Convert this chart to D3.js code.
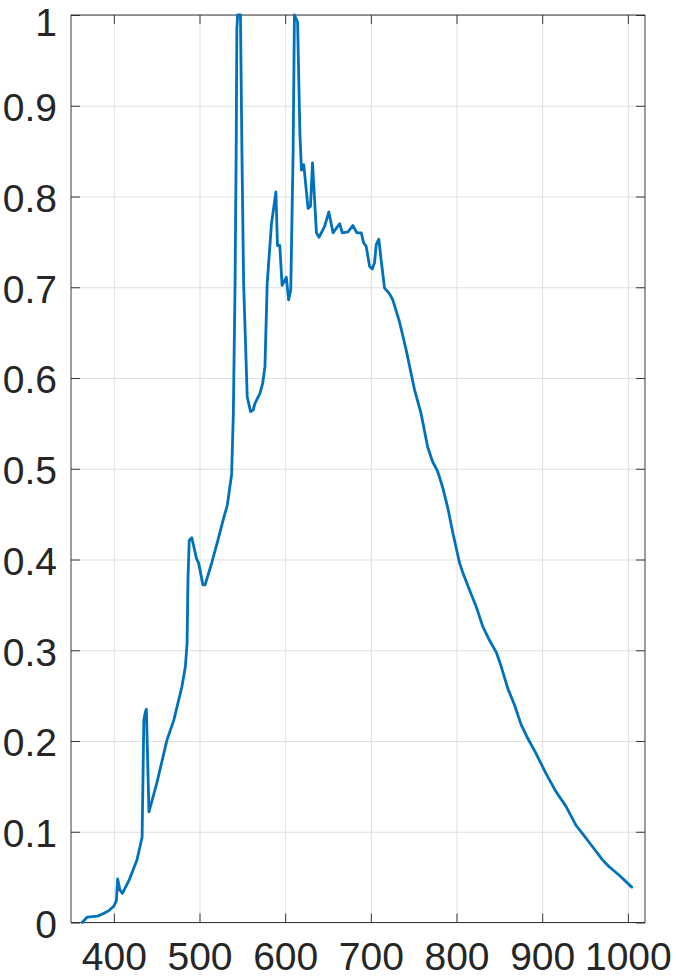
<!DOCTYPE html>
<html>
<head>
<meta charset="utf-8">
<script src="https://cdn.jsdelivr.net/npm/d3@7"></script>
<style>
  html, body { margin: 0; padding: 0; background: #fff; }
  svg { display: block; }
</style>
</head>
<body>
<svg id="chart" width="676" height="979"></svg>
<script>
// ---- data ----
const wavelength = [363, 369, 381, 388, 394, 400, 403, 404.5, 407, 410, 418, 427, 433, 435, 437, 438, 441, 450, 462, 470,
  479.5, 483.5, 485.5, 486.5, 488, 491, 496.5, 499, 504, 506.5, 514.5, 522, 528, 532.5, 537.5, 539.5, 541.5, 542.8, 543.6, 544.5,
  547.8, 549.5, 551.5, 555.7, 559.6, 562.7, 564.7, 570.5, 573.7, 576.4, 579, 584, 589.2, 591, 593.7, 596.4, 601.4, 604, 606.5, 609.3,
  610.8, 614.5, 617.2, 619, 621.7, 626.7, 629.5, 631.9, 636.5, 639.5, 646, 651, 655.8, 663.6, 666.7, 673.3, 679, 683.7, 688.8, 691.5,
  694.6, 698.5, 701.6, 704.3, 706.3, 709.3, 712, 716, 721.7, 725.6, 733.4, 741.2, 751, 758.6, 766.3, 772, 778, 783.7, 790, 795.8,
  803.6, 807.5, 815.3, 823, 830.7, 838.5, 846.3, 852.2, 859.8, 867.6, 875.4, 883.1, 892.9, 904.5, 916.2, 927.8, 939.5, 947.1, 958.8,
  970.4, 978.2, 989.9, 1004.6];
const intensity = [0.000, 0.006, 0.007, 0.010, 0.013, 0.018, 0.024, 0.048, 0.036, 0.032, 0.047, 0.069, 0.094, 0.223, 0.233, 0.235, 0.122, 0.153, 0.201, 0.223,
  0.260, 0.282, 0.308, 0.377, 0.421, 0.424, 0.401, 0.396, 0.372, 0.372, 0.397, 0.423, 0.445, 0.460, 0.494, 0.561, 0.704, 0.850, 0.985, 1.000,
  1.000, 0.850, 0.704, 0.579, 0.563, 0.565, 0.572, 0.583, 0.594, 0.6125, 0.704, 0.770, 0.805, 0.746, 0.746, 0.702, 0.711, 0.686, 0.697, 0.851,
  1.000, 0.992, 0.869, 0.829, 0.835, 0.787, 0.789, 0.837, 0.760, 0.755, 0.767, 0.783, 0.760, 0.770, 0.760, 0.761, 0.768, 0.760, 0.760, 0.749,
  0.745, 0.723, 0.720, 0.727, 0.747, 0.753, 0.730, 0.699, 0.693, 0.686, 0.662, 0.631, 0.587, 0.561, 0.524, 0.508, 0.497, 0.480, 0.456, 0.429,
  0.396, 0.385, 0.366, 0.348, 0.326, 0.311, 0.298, 0.282, 0.258, 0.240, 0.218, 0.203, 0.186, 0.164, 0.144, 0.128, 0.107, 0.098, 0.0835,
  0.069, 0.0615, 0.052, 0.039];
const xTicks = [400, 500, 600, 700, 800, 900, 1000];
const xTickLabels = ["400", "500", "600", "700", "800", "900", "1000"];
const yTicks = [0, 0.1, 0.2, 0.3, 0.4, 0.5, 0.6, 0.7, 0.8, 0.9, 1];
const yTickLabels = ["0", "0.1", "0.2", "0.3", "0.4", "0.5", "0.6", "0.7", "0.8", "0.9", "1"];
const xDomain = [350, 1020];
const yDomain = [0, 1];

// ---- layout ----
const L = 71, R = 645, T = 15, B = 922.5;
const svg = d3.select("#chart");
const x = d3.scaleLinear().domain(xDomain).range([L, R]);
const y = d3.scaleLinear().domain(yDomain).range([B, T]);
const FONT = "'Liberation Sans', Arial, Helvetica, sans-serif";
const AX = "#262626";
const tickLen = 9;

// grid
const gridG = svg.append("g");
gridG.append("g").attr("transform", `translate(0,${B})`)
  .call(d3.axisBottom(x).tickValues(xTicks).tickSize(-(B - T)).tickFormat(""))
  .call(g => g.select(".domain").remove())
  .call(g => g.selectAll("line").attr("stroke", "#dfdfdf").attr("stroke-width", 1));
gridG.append("g").attr("transform", `translate(${L},0)`)
  .call(d3.axisLeft(y).tickValues(yTicks).tickSize(-(R - L)).tickFormat(""))
  .call(g => g.select(".domain").remove())
  .call(g => g.selectAll("line").attr("stroke", "#dfdfdf").attr("stroke-width", 1));

// box
svg.append("rect").attr("x", L).attr("y", T).attr("width", R - L).attr("height", B - T)
  .attr("fill", "none").attr("stroke", AX).attr("stroke-width", 0.9);

function styleAxis(g) {
  g.select(".domain").remove();
  g.selectAll("line").attr("stroke", AX).attr("stroke-width", 0.9);
  g.selectAll("text").attr("fill", AX).style("font-family", FONT).style("font-size", "39px");
}

// bottom axis with labels
svg.append("g").attr("transform", `translate(0,${B})`)
  .call(d3.axisBottom(x).tickValues(xTicks).tickSizeInner(-tickLen).tickSizeOuter(0).tickPadding(20)
    .tickFormat((d, i) => xTickLabels[i]))
  .call(styleAxis);
// top mirrored ticks
svg.append("g").attr("transform", `translate(0,${T})`)
  .call(d3.axisTop(x).tickValues(xTicks).tickSizeInner(-tickLen).tickSizeOuter(0).tickFormat(""))
  .call(styleAxis);
// left axis with labels
svg.append("g").attr("transform", `translate(${L},0)`)
  .call(d3.axisLeft(y).tickValues(yTicks).tickSizeInner(-tickLen).tickSizeOuter(0).tickPadding(14)
    .tickFormat((d, i) => yTickLabels[i]))
  .call(styleAxis)
  .call(g => g.selectAll("text").attr("dy", d => d === 1 ? "0.53em" : "0.38em"));
// right mirrored ticks
svg.append("g").attr("transform", `translate(${R},0)`)
  .call(d3.axisRight(y).tickValues(yTicks).tickSizeInner(-tickLen).tickSizeOuter(0).tickFormat(""))
  .call(styleAxis);

// line
const pts = wavelength.map((w, i) => [w, intensity[i]]);
svg.append("path").datum(pts)
  .attr("fill", "none").attr("stroke", "#0072BD").attr("stroke-width", 2.8)
  .attr("stroke-linejoin", "round").attr("stroke-linecap", "round")
  .attr("d", d3.line().x(d => x(d[0])).y(d => y(d[1])));
</script>
</body>
</html>
